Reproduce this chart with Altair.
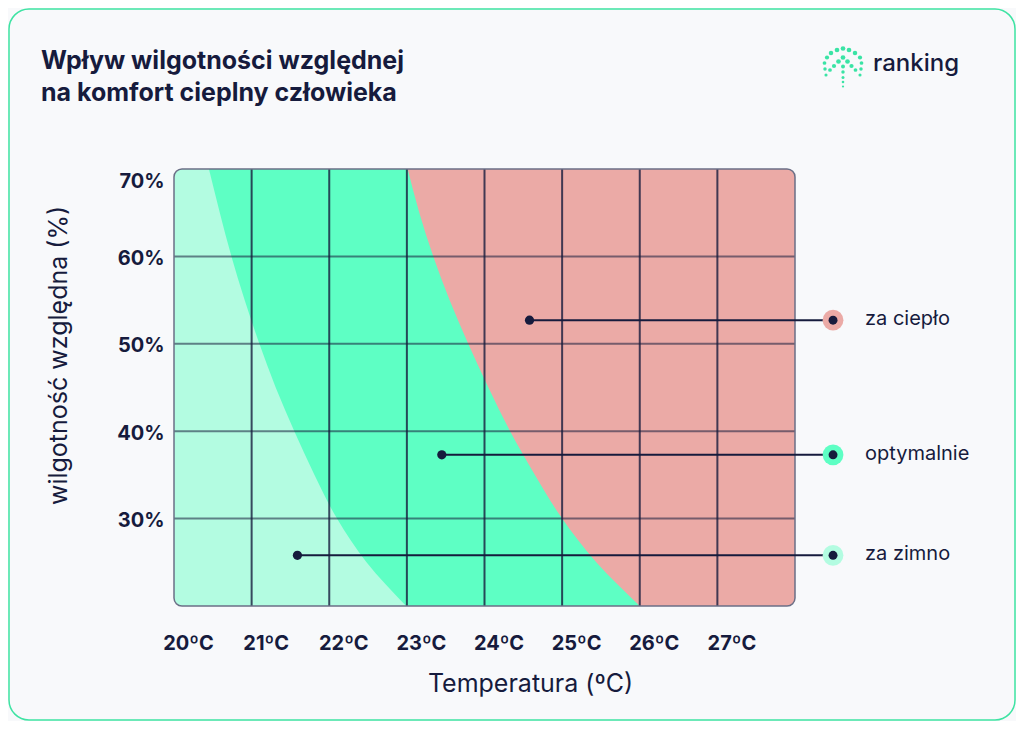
import altair as alt
import pandas as pd

# ---------------- data ----------------
humidity  = [20, 25, 30, 35, 40, 45, 50, 55, 60, 65, 70]
cold_edge = [22.99, 22.48, 22.10, 21.81, 21.55, 21.31, 21.10, 20.91, 20.74, 20.59, 20.45]
warm_edge = [26.00, 25.44, 25.00, 24.65, 24.33, 24.05, 23.79, 23.55, 23.34, 23.16, 23.01]

temp_ticks = [20, 21, 22, 23, 24, 25, 26, 27]
temp_grid = [21, 22, 23, 24, 25, 26, 27]
temp_range = [20, 28]
hum_ticks = [30, 40, 50, 60, 70]
hum_grid = [30, 40, 50, 60]
hum_range = [20, 70]

zone_names  = ["za ciepło", "optymalnie", "za zimno"]
zone_colors = ["#ebaaa6", "#5effc4", "#b3fce1"]
marker_temp = [24.58, 23.45, 21.59]
marker_hum  = [52.7, 37.3, 25.8]
legend_temp = 28.49

title_lines = ["Wpływ wilgotności względnej", "na komfort cieplny człowieka"]
x_title = "Temperatura (ºC)"
y_title = "wilgotność względna (%)"
brand = "ranking"

# logo dots (decoration, pixel offsets from logo centre)
logo_dx = [-6, 0, 6, -12, 12, -16, 17, -18.5, 18.5, -18, 18, -17, 17,
           0, -4.5, 4.5, -9, 8.5, -13, 12.5, 0, 0, 0, 0, 0]
logo_dy = [-16, -17.5, -16, -13, -13, -8.5, -8.5, -3, -3, 3, 3, 9, 9,
           -8.5, -4.5, -4.5, 0, 0, 4, 4, 0.5, 6, 11.5, 16, 20.5]
logo_sz = [22, 22, 22, 20, 20, 18, 18, 14, 14, 12, 12, 10, 10,
           22, 22, 22, 18, 18, 14, 14, 16, 12, 9, 7, 5]

NAVY = "#161b3d"
FONT = "Inter"
W, H = 621, 437

xs = alt.Scale(domain=temp_range, nice=False, zero=False)
ys = alt.Scale(domain=hum_range, nice=False, zero=False)

x_axis = alt.Axis(
    values=temp_ticks, labelExpr="datum.value + 'ºC'",
    labelOffset=14, labelPadding=43, labelBaseline="alphabetic",
    labelFlush=False, labelOverlap=False, labelBound=False,
    ticks=False, tickSize=0, domain=False, grid=False,
    labelFont=FONT, labelFontSize=20, labelFontWeight="bold", labelColor=NAVY,
    title=x_title, titleFont=FONT, titleFontSize=25, titleFontWeight="normal",
    titleColor=NAVY, titleX=356, titleY=85, titleBaseline="alphabetic",
    titleAlign="center")
y_axis = alt.Axis(
    values=hum_ticks, labelExpr="datum.value + '%'",
    labelPadding=10, labelBaseline="middle",
    labelOffset={"condition": {"test": "datum.value == 70", "value": 12}, "value": 2},
    labelOverlap=False, labelBound=False,
    ticks=False, tickSize=0, domain=False, grid=False,
    labelFont=FONT, labelFontSize=20, labelFontWeight="bold", labelColor=NAVY,
    title=y_title, titleFont=FONT, titleFontSize=25, titleFontWeight="normal",
    titleColor=NAVY, titleX=-116, titleY=186, titleBaseline="middle",
    titleAlign="center")


def X(f):
    return alt.X(f, type="quantitative", scale=xs, axis=x_axis)


def Y(f):
    return alt.Y(f, type="quantitative", scale=ys, axis=y_axis)


full = pd.DataFrame({"x": [temp_range[0]], "x2": [temp_range[1]],
                     "y": [hum_range[0]], "y2": [hum_range[1]]})

# cold zone base (left corners rounded)
cold_df = pd.DataFrame({"x": [temp_range[0]], "x2": [max(cold_edge)],
                        "y": [hum_range[0]], "y2": [hum_range[1]]})
cold = alt.Chart(cold_df).mark_rect(
    color=zone_colors[2], cornerRadiusTopLeft=8, cornerRadiusBottomLeft=8
).encode(x=X("x"), x2="x2:Q", y=Y("y"), y2="y2:Q")

# hot zone base (right corners rounded)
hot_df = pd.DataFrame({"x": [min(warm_edge)], "x2": [temp_range[1]],
                       "y": [hum_range[0]], "y2": [hum_range[1]]})
hot = alt.Chart(hot_df).mark_rect(
    color=zone_colors[0], cornerRadiusTopRight=8, cornerRadiusBottomRight=8
).encode(x=X("x"), x2="x2:Q", y=Y("y"), y2="y2:Q")

# optimal band between the two edges
edges = pd.DataFrame({"h": humidity, "cold": cold_edge, "warm": warm_edge})
optimal = alt.Chart(edges).mark_area(
    orient="horizontal", interpolate="monotone", color=zone_colors[1]
).encode(x=X("cold"), x2="warm:Q", y=Y("h"))

# grid
vgrid_df = pd.DataFrame({"t": temp_grid, "y": hum_range[0], "y2": hum_range[1]})
vgrid = alt.Chart(vgrid_df).mark_rule(color=NAVY, strokeWidth=2, opacity=0.8).encode(
    x=X("t"), y=Y("y"), y2="y2:Q")
hgrid_df = pd.DataFrame({"h": hum_grid, "x": temp_range[0], "x2": temp_range[1]})
hgrid = alt.Chart(hgrid_df).mark_rule(color=NAVY, strokeWidth=2, opacity=0.55).encode(
    y=Y("h"), x=X("x"), x2="x2:Q")

# border
border = alt.Chart(full).mark_rect(
    filled=False, stroke="#6b6f86", strokeWidth=1.5, cornerRadius=8
).encode(x=X("x"), x2="x2:Q", y=Y("y"), y2="y2:Q")

# annotations
ann = pd.DataFrame({"zone": zone_names, "color": zone_colors,
                    "t": marker_temp, "h": marker_hum, "lt": legend_temp})
lines = alt.Chart(ann).mark_rule(color=NAVY, strokeWidth=2).encode(
    x=X("t"), x2="lt:Q", y=Y("h"))
dots = alt.Chart(ann).mark_circle(color=NAVY, opacity=1, size=85).encode(
    x=X("t"), y=Y("h"))
leg_big = alt.Chart(ann).mark_circle(opacity=1, size=430).encode(
    x=X("lt"), y=Y("h"), color=alt.Color("color:N", scale=None))
leg_small = alt.Chart(ann).mark_circle(color=NAVY, opacity=1, size=80).encode(
    x=X("lt"), y=Y("h"))
leg_text = alt.Chart(ann).mark_text(
    align="left", baseline="middle", dx=32, dy=-1, font=FONT, fontSize=20, color=NAVY
).encode(x=X("lt"), y=Y("h"), text="zone:N")

# titles and brand
title1 = alt.Chart().mark_text(
    align="left", baseline="alphabetic", font=FONT, fontSize=25, fontWeight="bold", color=NAVY
).encode(x=alt.value(-133), y=alt.value(-100), text=alt.value(title_lines[0]))
title2 = alt.Chart().mark_text(
    align="left", baseline="alphabetic", font=FONT, fontSize=25, fontWeight="bold", color=NAVY
).encode(x=alt.value(-133), y=alt.value(-68), text=alt.value(title_lines[1]))
brand_txt = alt.Chart().mark_text(
    align="left", baseline="alphabetic", font=FONT, fontSize=24, fontWeight=500, color=NAVY
).encode(x=alt.value(699), y=alt.value(-98), text=alt.value(brand))

logo_df = pd.DataFrame({"dx": logo_dx, "dy": logo_dy, "s": logo_sz})
logo = alt.Chart(logo_df).transform_calculate(
    px="669 + datum.dx", py="-103 + datum.dy"
).mark_circle(color="#2fe3a0", opacity=0.95).encode(
    x=alt.X("px:Q", scale=None, axis=None), y=alt.Y("py:Q", scale=None, axis=None),
    size=alt.Size("s:Q", scale=None, legend=None))

card = alt.Chart().mark_rect(
    filled=False, stroke="#3ee3a3", strokeWidth=1.5, cornerRadius=20
).encode(x=alt.value(-165), x2=alt.value(W + 220), y=alt.value(-160), y2=alt.value(H + 114))

chart = alt.layer(
    card, cold, hot, optimal, vgrid, hgrid, border, lines, dots,
    leg_big, leg_small, leg_text, title1, title2, brand_txt, logo
).resolve_scale(x="shared", y="shared").properties(
    width=W, height=H,
    autosize=alt.AutoSizeParams(type="none"),
    padding={"left": 166, "top": 161, "right": 221, "bottom": 115},
    background="#f8f9fb",
).configure_view(stroke=None)

chart.save("out.html", embed_options={"renderer": "svg", "actions": False})
